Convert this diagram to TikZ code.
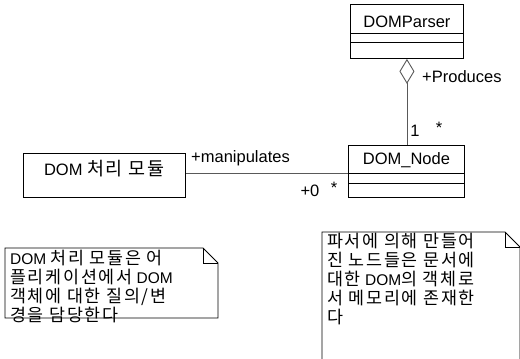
\documentclass[tikz,border=0pt]{standalone}
\usepackage{fontspec}
\setmainfont{Liberation Sans}
\newfontfamily\kr[Scale=1.12, LetterSpace=10]{Noto Sans CJK KR}
\usetikzlibrary{arrows.meta,calc}
\tikzset{
  classbox/.style={draw, line width=0.9pt, anchor=north west, inner sep=0pt},
  lbl/.style={inner sep=0pt, font=\fontsize{16.5}{18}\selectfont},
  notetext/.style={inner sep=0pt, anchor=north west, align=left, font=\fontsize{15.5}{19}\selectfont},
  conn/.style={draw=black!65, line width=0.9pt},
  fold/.style={draw, line width=0.8pt}
}
\begin{document}
\begin{tikzpicture}[x=1pt,y=-1pt]
\useasboundingbox (0,0) rectangle (520,359);
\clip (0,0) rectangle (520,359);
% DOMParser
\node[classbox, minimum width=113pt, minimum height=54pt] (parser) at (350,4) {};
\draw[line width=0.9pt] ($(parser.north west)+(0,29)$) -- ($(parser.north east)+(0,29)$);
\draw[line width=0.9pt] ($(parser.north west)+(0,38)$) -- ($(parser.north east)+(0,38)$);
\node[lbl] (parsertxt) at ($(parser.north)+(0,18)$) {DOMParser};
% DOM_Node
\node[classbox, minimum width=116pt, minimum height=52pt] (domnode) at (348,145) {};
\draw[line width=0.9pt] ($(domnode.north west)+(0,28)$) -- ($(domnode.north east)+(0,28)$);
\draw[line width=0.9pt] ($(domnode.north west)+(0,38)$) -- ($(domnode.north east)+(0,38)$);
\node[lbl] (nodetxt) at ($(domnode.north)+(0,15)$) {DOM\_Node};
% DOM module
\node[classbox, minimum width=162pt, minimum height=44pt] (module) at (23,153) {};
\node[lbl] (moduletxt) at ($(module.north)+(0,16)$) {DOM {\kr 처리 모듈}};
% aggregation
\coordinate (aggtop) at (parser.south);
\coordinate (aggbot) at (aggtop |- domnode.north);
\draw[conn, {Diamond[open, fill=white, length=25pt, width=15pt]}-] (aggtop) -- (aggbot);
\node[lbl, anchor=west] (produces) at (422,77) {+Produces};
\node[lbl] (one) at (415,131) {1};
\node[lbl] (star1) at (439,128) {*};
% manipulates
\coordinate (mstart) at ($(module.north east)+(0,20)$);
\coordinate (mend) at (domnode.west |- mstart);
\draw[conn] (mstart) -- (mend);
\node[lbl, anchor=west] (manip) at (191,158) {+manipulates};
\node[lbl] (zero) at (310,191) {+0};
\node[lbl] (star2) at (334,188) {*};
% left note
\draw[fold] (5,248) -- (203,248) -- (218,263) -- (218,318) -- (5,318) -- cycle;
\draw[fold] (203,248) -- (203,263) -- (218,263);
\node[notetext] (note1) at (10,250) {DOM {\kr 처리 모듈은 어}\\{\kr 플리케이션에서} DOM\\{\kr 객체에 대한 질의/변}\\{\kr 경을 담당한다}};
% right note
\draw[fold] (322,232) -- (505,232) -- (520,247) -- (520,370) -- (322,370) -- cycle;
\draw[fold] (505,232) -- (505,247) -- (520,247);
\node[notetext] (note2) at (327,233) {{\kr 파서에 의해 만들어}\\{\kr 진 노드들은 문서에}\\{\kr 대한} DOM{\kr 의 객체로}\\{\kr 서 메모리에 존재한}\\{\kr 다}};
\end{tikzpicture}
\end{document}
